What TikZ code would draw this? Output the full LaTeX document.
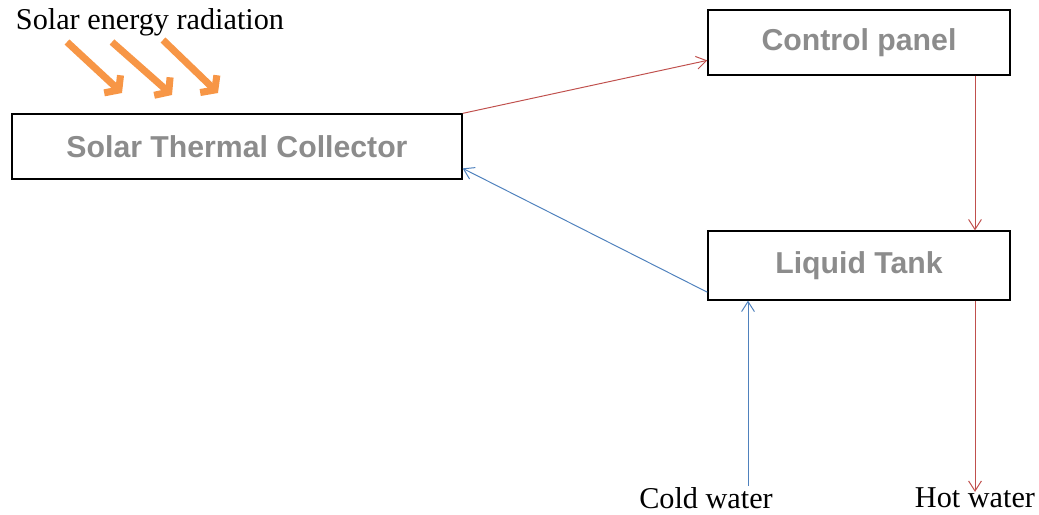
\documentclass[tikz,border=0pt]{standalone}
\usepackage{fontspec}
\setmainfont{Liberation Serif}
\newfontfamily\boxfont{Liberation Sans}
\usetikzlibrary{arrows.meta,calc}

\definecolor{rayOrange}{RGB}{247,150,70}
\definecolor{hotRed}{RGB}{192,80,77}
\definecolor{coldBlue}{RGB}{79,129,189}
\definecolor{boxText}{RGB}{140,140,140}

\begin{document}
\begin{tikzpicture}[
    x=0.025cm, y=-0.025cm,
    BoxShape/.style={rectangle, draw=black, line width=0.9pt, inner sep=0pt,
        font=\boxfont\bfseries\fontsize{21.5}{25}\selectfont, text=boxText},
    LabelText/.style={inner sep=0pt, font=\fontsize{21.5}{25}\selectfont},
    RedFlow/.style={draw=hotRed, line width=0.7pt,
        -{Straight Barb[length=2.5mm,width=3.2mm]}},
    BlueFlow/.style={draw=coldBlue, line width=0.7pt,
        -{Straight Barb[length=2.5mm,width=3.2mm]}},
    SunRay/.style={draw=rayOrange, line width=5pt,
        -{Straight Barb[length=2.2mm,width=6mm]}}
]
\useasboundingbox (0,0) rectangle (1039,514);

% boxes
\node (collector) [BoxShape, minimum width=11.25cm, minimum height=1.625cm]
    at (237,146.5) {Solar Thermal Collector};
\node (controlPanel) [BoxShape, minimum width=7.55cm, minimum height=1.625cm]
    at (859,42.5) {Control panel};
\node (liquidTank) [BoxShape, minimum width=7.55cm, minimum height=1.725cm]
    at (859,265.5) {Liquid Tank};

% labels
\node (radiation) [LabelText] at (150,22) {Solar energy radiation};
\node (coldWater) [LabelText] at (706,498) {Cold water};
\node (hotWater) [LabelText] at (975,498) {Hot water};
\coordinate (coldIn) at (748,486);

% sun rays
\draw [SunRay] (67,42) -- (122,93);
\draw [SunRay] (112,42) -- (172,95);
\draw [SunRay] (163,40) -- (218,93);

% flows
\draw [RedFlow] (collector.north east)
    -- ($(controlPanel.south west)!0.23!(controlPanel.north west)$);
\draw [RedFlow] (controlPanel.south -| hotWater) -- (liquidTank.north -| hotWater);
\draw [RedFlow] (liquidTank.south -| hotWater) -- ([yshift=-3pt]hotWater.north);
\draw [BlueFlow] ($(liquidTank.south west)!0.12!(liquidTank.north west)$)
    -- ($(collector.south east)!0.17!(collector.north east)$);
\draw [BlueFlow] (coldIn) -- (coldIn |- liquidTank.south);
\end{tikzpicture}
\end{document}
